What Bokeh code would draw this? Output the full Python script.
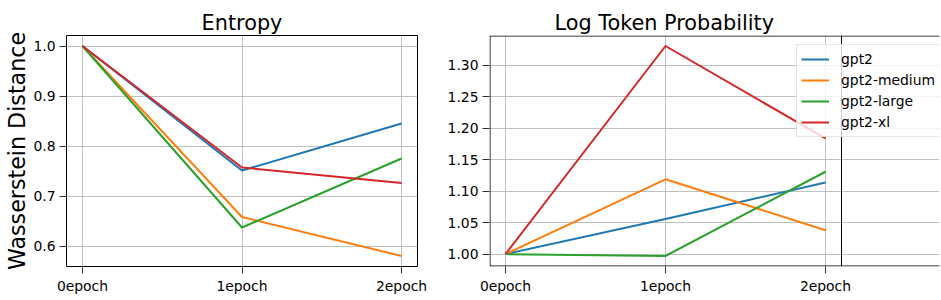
from bokeh.plotting import figure
from bokeh.layouts import row
from bokeh.models import (Range1d, FixedTicker, Legend, LegendItem, Title,
                          PrintfTickFormatter, Span)
from bokeh.embed import file_html
from bokeh.resources import INLINE

epochs = ["0epoch", "1epoch", "2epoch"]
models = ["gpt2", "gpt2-medium", "gpt2-large", "gpt2-xl"]
colors = ["#1f77b4", "#ff7f0e", "#2ca02c", "#d62728"]

entropy_gpt2 = [1.0, 0.751, 0.845]
entropy_medium = [1.0, 0.658, 0.580]
entropy_large = [1.0, 0.637, 0.775]
entropy_xl = [1.0, 0.757, 0.726]

logprob_gpt2 = [1.0, 1.056, 1.114]
logprob_medium = [1.0, 1.119, 1.038]
logprob_large = [1.0, 0.997, 1.131]
logprob_xl = [1.0, 1.331, 1.184]

entropy_ticks = [0.6, 0.7, 0.8, 0.9, 1.0]
logprob_ticks = [1.00, 1.05, 1.10, 1.15, 1.20, 1.25, 1.30]

FONT = "DejaVu Sans"
xs = list(range(len(epochs)))
X_LO, X_HI = -0.1, len(epochs) - 1 + 0.1
FRAME_H = 231


def auto_range(series):
    lo = min(min(s) for s in series)
    hi = max(max(s) for s in series)
    m = (hi - lo) * 0.05
    return lo - m, hi + m


def make_fig(title, series, ticks, fmt, left, right, axes_w, frame_w,
             ylabel=None, title_align="center", title_offset=0):
    ylo, yhi = auto_range(series)
    x_end = X_LO + (X_HI - X_LO) * frame_w / axes_w
    p = figure(frame_width=frame_w, frame_height=FRAME_H,
               min_border_left=left, min_border_right=right,
               min_border_top=35, min_border_bottom=0,
               x_range=Range1d(X_LO, x_end),
               y_range=Range1d(ylo, yhi),
               output_backend="svg", toolbar_location=None)
    p.title = Title(text=title, text_font=FONT, text_font_size="20.8px",
                    text_font_style="normal", text_color="black",
                    align=title_align, standoff=2, offset=title_offset)
    p.background_fill_color = "white"
    p.border_fill_color = "white"
    for ax in (p.xaxis[0], p.yaxis[0]):
        ax.axis_line_color = None
        ax.major_tick_line_color = "black"
        ax.major_tick_line_width = 0.8
        ax.major_tick_out = 7
        ax.major_tick_in = 0
        ax.minor_tick_line_color = None
        ax.major_label_text_font = FONT
        ax.major_label_text_font_size = "13.9px"
        ax.major_label_text_color = "black"
        ax.major_label_standoff = 4
    p.xaxis.ticker = FixedTicker(ticks=xs)
    p.xaxis.major_label_overrides = {i: e for i, e in enumerate(epochs)}
    p.yaxis.ticker = FixedTicker(ticks=ticks)
    p.yaxis.formatter = PrintfTickFormatter(format=fmt)
    if ylabel:
        p.yaxis.axis_label = ylabel
        p.yaxis.axis_label_text_font = FONT
        p.yaxis.axis_label_text_font_size = "22.2px"
        p.yaxis.axis_label_text_font_style = "normal"
        p.yaxis.axis_label_text_color = "black"
        p.yaxis.axis_label_standoff = 0
    for g in (p.xgrid[0], p.ygrid[0]):
        g.grid_line_color = "#b0b0b0"
        g.grid_line_width = 0.8
    p.ygrid[0].bounds = (X_LO, X_HI)
    renderers = []
    for s, c in zip(series, colors):
        r = p.line(xs, s, line_color=c, line_width=2, line_join="round")
        renderers.append(r)
    if frame_w == axes_w:
        p.outline_line_color = "black"
        p.outline_line_width = 1
    else:
        p.outline_line_color = None
        # axes box narrower than the frame: spines inset half a pixel so
        # they are not clipped by the frame edge; right spine as a span
        dx = 0.5 * (X_HI - X_LO) / axes_w
        dy = 0.5 * (yhi - ylo) / FRAME_H
        p.quad(left=[X_LO + dx], right=[x_end + 1], bottom=[ylo + dy], top=[yhi - dy],
               fill_color=None, line_color="black", line_width=1)
        p.add_layout(Span(location=X_HI, dimension="height",
                          line_color="black", line_width=1))
    return p, renderers


p1, _ = make_fig("Entropy",
                 [entropy_gpt2, entropy_medium, entropy_large, entropy_xl],
                 entropy_ticks, "%.1f", 60, 12, 351, 351,
                 ylabel="Wasserstein Distance")
p1.margin = (0, 0, 0, 1)

p2, rs = make_fig("Log Token Probability",
                  [logprob_gpt2, logprob_medium, logprob_large, logprob_xl],
                  logprob_ticks, "%.2f", 60, 1, 352, 450,
                  title_align="left", title_offset=65)

legend = Legend(items=[LegendItem(label=m, renderers=[r]) for m, r in zip(models, rs)],
                location=(307, 129), orientation="vertical",
                label_text_font=FONT, label_text_font_size="13.9px",
                label_text_color="black", label_standoff=12,
                glyph_width=28, glyph_height=20, label_height=20, label_width=96,
                spacing=1, padding=4, margin=0,
                border_line_color="#cccccc", border_line_width=1,
                background_fill_color="white", background_fill_alpha=0.8)
p2.add_layout(legend, "center")

layout = row(p1, p2, spacing=0)
open("out.html", "w").write(file_html(layout, INLINE))
